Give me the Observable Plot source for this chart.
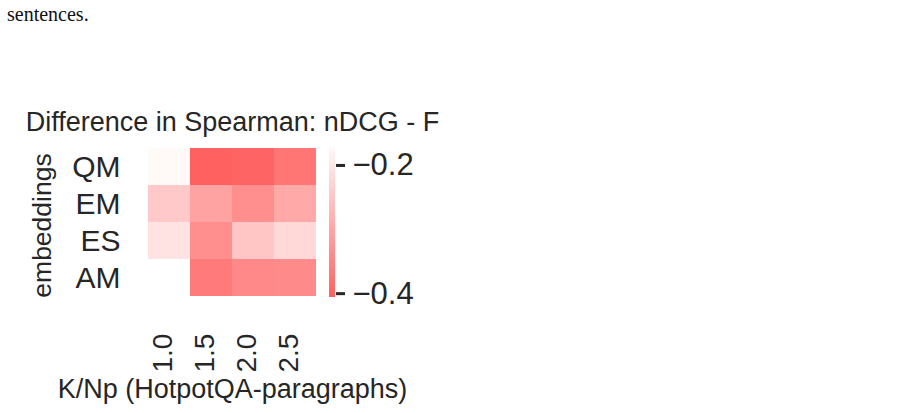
<!DOCTYPE html>
<html>
<head>
<meta charset="utf-8">
<script src="https://cdn.jsdelivr.net/npm/d3@7"></script>
<script src="https://cdn.jsdelivr.net/npm/@observablehq/plot@0.6"></script>
<style>
  body { margin: 0; background: #fff; }
  #wrap { position: relative; width: 901px; height: 413px; overflow: hidden; background: #fff; }
  #note { position: absolute; left: 7px; top: 4px; font: 20px/20px "Liberation Serif", "Times New Roman", serif; color: #111; }
  #heat, #cbar { position: absolute; top: 0; }
  #heat { left: 0; }
  #cbar { left: 300px; }
</style>
</head>
<body>
<div id="wrap">
  <div id="note">sentences.</div>
  <div id="heat"></div>
  <div id="cbar"></div>
</div>
<script>
// ---- data ----
const columns = ["1.0", "1.5", "2.0", "2.5"];            // K/Np (HotpotQA-paragraphs)
const embeddings = ["QM", "EM", "ES", "AM"];
const qmValues = [-0.172, -0.406, -0.400, -0.373];
const emValues = [-0.245, -0.305, -0.334, -0.294];
const esValues = [-0.206, -0.334, -0.250, -0.223];
const amValues = [null, -0.364, -0.345, -0.342];
const colorTicks = [-0.2, -0.4];
const titleText = "Difference in Spearman: nDCG - F";
const xLabel = "K/Np (HotpotQA-paragraphs)";
const yLabel = "embeddings";

const rows = {QM: qmValues, EM: emValues, ES: esValues, AM: amValues};
const cells = [];
for (const e of embeddings) {
  rows[e].forEach((v, i) => { if (v != null) cells.push({emb: e, k: columns[i], value: v}); });
}
const extent = d3.extent(cells, d => d.value);
const colorSpec = {type: "linear", domain: extent, range: ["#ff6060", "#fff9f8"], interpolate: "rgb"};
const font = "'Liberation Sans', Arial, Helvetica, sans-serif";
const ink = "#262626";
const fmt = d => (d < 0 ? "\u2212" : "") + Math.abs(d).toFixed(1);

const heat = Plot.plot({
  width: 901, height: 413,
  marginLeft: 147, marginRight: 584, marginTop: 147, marginBottom: 116,
  x: {domain: columns, padding: 0, axis: null},
  y: {domain: embeddings, padding: 0, axis: null},
  color: colorSpec,
  style: {fontFamily: font, color: ink, background: "transparent", overflow: "visible"},
  marks: [
    Plot.cell(cells, {x: "k", y: "emb", fill: "value", inset: 0}),
    Plot.axisY({tickSize: 0, tickPadding: 27, fontSize: 30, label: null}),
    Plot.text(columns, {x: d => d, frameAnchor: "bottom", rotate: -90, textAnchor: "start", lineAnchor: "middle", dx: -6, dy: 75, fontSize: 28, fill: ink}),
    Plot.text([yLabel], {frameAnchor: "top-left", rotate: -90, dx: -105, dy: 78, lineAnchor: "middle", textAnchor: "middle", fontSize: 26.5, fill: ink}),
    Plot.text([titleText], {frameAnchor: "top", dy: -25, lineAnchor: "middle", fontSize: 27, fill: ink}),
    Plot.text([xLabel], {frameAnchor: "bottom", dy: 92, lineAnchor: "middle", fontSize: 27, fill: ink})
  ]
});
document.getElementById("heat").appendChild(heat);

// colorbar gradient strips (sampled over the color domain)
const nStrips = 150;
const step = (extent[1] - extent[0]) / nStrips;
const strips = d3.range(nStrips).map(i => [extent[0] + i * step, extent[0] + (i + 1) * step]);

const cbar = Plot.plot({
  width: 150, height: 413,
  marginLeft: 29, marginRight: 115, marginTop: 147, marginBottom: 116,
  x: {domain: [0, 1], axis: null},
  y: {domain: extent, axis: null},
  color: colorSpec,
  style: {fontFamily: font, color: ink, background: "transparent", overflow: "visible"},
  marks: [
    Plot.rect(strips, {x1: 0, x2: 1, y1: d => d[0], y2: d => d[1] + step * 0.2, fill: d => (d[0] + d[1]) / 2, inset: 0}),
    Plot.axisY({anchor: "right", ticks: colorTicks, tickFormat: fmt, tickSize: 9, tickPadding: 8, fontSize: 31, strokeWidth: 3, label: null})
  ]
});
document.getElementById("cbar").appendChild(cbar);
</script>
</body>
</html>
